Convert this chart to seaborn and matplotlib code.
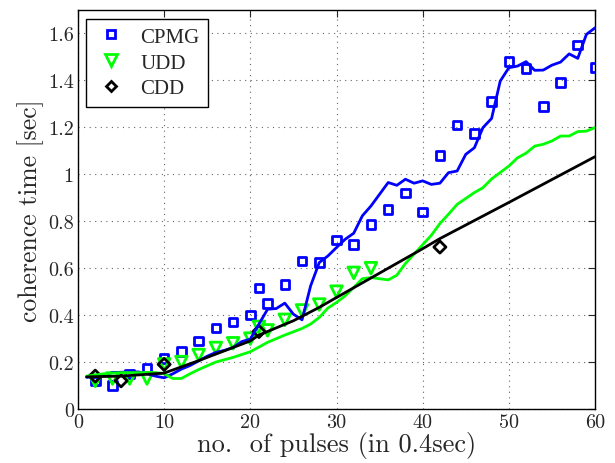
import numpy as np
import pandas as pd
import matplotlib
matplotlib.use("Agg")
import matplotlib.pyplot as plt
from matplotlib.lines import Line2D
from matplotlib.ticker import FuncFormatter
import seaborn as sns

# ---- data ----
cpmg_x = [2, 4, 6, 8, 10, 12, 14, 16, 18, 20, 21, 22, 24, 26, 28, 30, 32, 34, 36, 38,
          40, 42, 44, 46, 48, 50, 52, 54, 56, 58, 60]
cpmg_y = [0.12, 0.10, 0.15, 0.175, 0.215, 0.245, 0.29, 0.345, 0.37, 0.40, 0.515, 0.45,
          0.53, 0.63, 0.625, 0.72, 0.70, 0.785, 0.85, 0.92, 0.84, 1.08, 1.21, 1.175,
          1.31, 1.48, 1.45, 1.29, 1.39, 1.55, 1.455]

udd_x = [2, 4, 6, 8, 10, 12, 14, 16, 18, 20, 21, 22, 24, 26, 28, 30, 32, 34]
udd_y = [0.12, 0.13, 0.13, 0.13, 0.19, 0.20, 0.23, 0.26, 0.28, 0.30, 0.35, 0.335,
         0.38, 0.42, 0.445, 0.50, 0.58, 0.60]

cdd_x = [2, 5, 10, 21, 42]
cdd_y = [0.14, 0.12, 0.19, 0.33, 0.69]

cpmg_fit_x = [1, 3, 4, 6, 7, 8, 9, 10, 11, 12, 13, 14, 15, 16, 17, 18, 19, 20, 21, 22,
              23, 24, 25, 26, 27, 28, 29, 30, 31, 32, 33, 34, 35, 36, 37, 38, 39, 40,
              41, 42, 43, 44, 45, 46, 47, 48, 49, 50, 51, 52, 53, 54, 55, 56, 57, 58,
              59, 60]
cpmg_fit_y = [0.135, 0.145, 0.155, 0.158, 0.158, 0.15, 0.14, 0.133, 0.15, 0.17, 0.185,
              0.205, 0.225, 0.241, 0.25, 0.262, 0.287, 0.298, 0.362, 0.425, 0.428,
              0.451, 0.404, 0.38, 0.525, 0.624, 0.652, 0.688, 0.723, 0.749, 0.823,
              0.865, 0.915, 0.965, 0.953, 0.979, 0.962, 0.972, 0.957, 0.962, 1.007,
              1.014, 1.085, 1.113, 1.199, 1.238, 1.397, 1.454, 1.461, 1.48, 1.443,
              1.444, 1.465, 1.478, 1.513, 1.494, 1.596, 1.624]

udd_fit_x = [1, 3, 5, 7, 9, 10, 11, 12, 13, 14, 16, 18, 20, 22, 24, 26, 27, 28, 29, 30,
             31, 32, 33, 34, 35, 36, 37, 38, 39, 40, 41, 42, 43, 44, 46, 47, 48, 50,
             51, 52, 53, 54, 55, 56, 57, 58, 59, 60]
udd_fit_y = [0.14, 0.15, 0.155, 0.155, 0.155, 0.15, 0.13, 0.13, 0.15, 0.168, 0.20,
             0.22, 0.244, 0.284, 0.315, 0.343, 0.362, 0.39, 0.43, 0.454, 0.482, 0.518,
             0.555, 0.56, 0.555, 0.55, 0.57, 0.62, 0.66, 0.70, 0.74, 0.79, 0.83, 0.872,
             0.922, 0.943, 0.98, 1.035, 1.07, 1.09, 1.12, 1.128, 1.142, 1.163, 1.163,
             1.182, 1.184, 1.199]

cdd_fit_x = [1, 5, 10, 14, 20, 21, 25, 28, 30, 40, 42, 50, 60]
cdd_fit_y = [0.137, 0.14, 0.153, 0.206, 0.29, 0.315, 0.376, 0.433, 0.475, 0.683,
             0.726, 0.88, 1.075]

x_ticks = [0, 10, 20, 30, 40, 50, 60]
y_ticks = [0, 0.2, 0.4, 0.6, 0.8, 1.0, 1.2, 1.4, 1.6]

BLUE = "#0000ff"
GREEN = "#00ff00"
BLACK = "#000000"

sns.set_style("white")
plt.rcParams["font.family"] = ["cmr10", "DejaVu Serif"]
plt.rcParams["axes.formatter.use_mathtext"] = True
plt.rcParams["mathtext.fontset"] = "cm"

fig = plt.figure(figsize=(6.15, 4.64), dpi=100)
ax = fig.add_axes([78 / 615, 1 - 410 / 464, 517 / 615, 399 / 464])

pts = pd.DataFrame({"x": cpmg_x, "y": cpmg_y})
sns.scatterplot(data=pts, x="x", y="y", ax=ax, marker="s", s=38,
                facecolors="none", edgecolors=BLUE, linewidths=2.0, zorder=3)
pts = pd.DataFrame({"x": udd_x, "y": udd_y})
sns.scatterplot(data=pts, x="x", y="y", ax=ax, marker="v", s=70,
                facecolors="none", edgecolors=GREEN, linewidths=2.0, zorder=3)
pts = pd.DataFrame({"x": cdd_x, "y": cdd_y})
sns.scatterplot(data=pts, x="x", y="y", ax=ax, marker="D", s=38,
                facecolors="none", edgecolors=BLACK, linewidths=2.0, zorder=3)

sns.lineplot(x=cpmg_fit_x, y=cpmg_fit_y, ax=ax, color=BLUE, lw=2.0,
             estimator=None, zorder=4)
sns.lineplot(x=udd_fit_x, y=udd_fit_y, ax=ax, color=GREEN, lw=2.0,
             estimator=None, zorder=4)
sns.lineplot(x=cdd_fit_x, y=cdd_fit_y, ax=ax, color=BLACK, lw=2.0,
             estimator=None, zorder=4)

ax.set_xlim(0, 60)
ax.set_ylim(0, 1.7)
ax.set_xticks(x_ticks)
ax.set_yticks(y_ticks)
ax.xaxis.set_major_formatter(FuncFormatter(lambda v, p: f"{v:g}"))
ax.yaxis.set_major_formatter(FuncFormatter(lambda v, p: f"{v:g}"))
ax.tick_params(direction="in", length=5, width=0.8, top=True, right=True,
               labelsize=14.5, pad=3)
for s in ax.spines.values():
    s.set_visible(True)
    s.set_color("black")
    s.set_linewidth(1.0)
ax.grid(True, linestyle=(0, (1, 4)), color="#666666", linewidth=0.8)
ax.set_axisbelow(True)

ax.set_xlabel("no.  of pulses (in 0.4sec)", fontsize=19, labelpad=0)
ax.set_ylabel("coherence time [sec]", fontsize=18.5, labelpad=3)

handles = [
    Line2D([], [], ls="none", marker="s", mfc="none", mec=BLUE, mew=2, ms=6),
    Line2D([], [], ls="none", marker="v", mfc="none", mec=GREEN, mew=2, ms=8),
    Line2D([], [], ls="none", marker="D", mfc="none", mec=BLACK, mew=2, ms=5.5),
]
leg = ax.legend(handles, ["CPMG", "UDD", "CDD"], loc="upper left",
                bbox_to_anchor=(0.0155, 0.978), borderaxespad=0,
                fancybox=False, framealpha=1,
                edgecolor="black", prop={"family": "Liberation Serif", "size": 15},
                handletextpad=0.6, borderpad=0.4, labelspacing=0.3,
                handlelength=1.6)
leg.get_frame().set_linewidth(1.0)

fig.savefig("out.png", dpi=100)
